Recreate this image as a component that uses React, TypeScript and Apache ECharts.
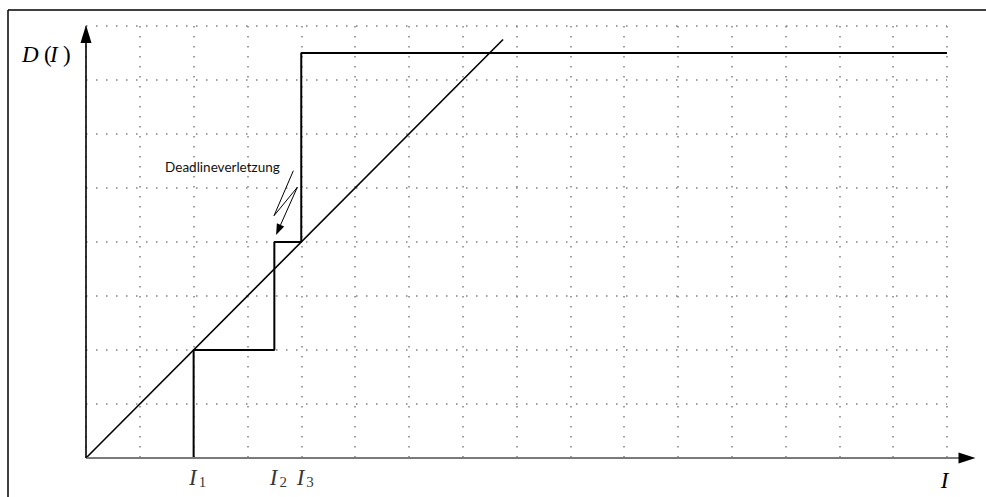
import React, { useEffect, useRef } from "react";
import * as echarts from "echarts";

// ---- data ----
const X_MAX = 16;
const Y_MAX = 8;
const AXIS_X_TIP = 16.53; // x-axis arrow tip (data units)
const stepPoints: [number, number][] = [
  [2, 0],
  [2, 2],
  [3.5, 2],
  [3.5, 4],
  [4, 4],
  [4, 7.5],
  [16, 7.5],
];
const diagonalPoints: [number, number][] = [
  [0, 0],
  [7.75, 7.75],
];
const markerPositions = [2, 3.5, 4];
const markerSubscripts = ["1", "2", "3"];
const annotationText = "Deadlineverletzung";
const annotationAnchor: [number, number] = [1.47, 5.39];
const lightningPoints: [number, number][] = [
  [3.853, 5.32],
  [3.494, 4.487],
  [3.927, 5.013],
  [3.532, 4.13],
];
const yAxisTitle = ["D", "(", "I", ")"];
const xAxisTitle = "I";

const SERIF = "'Liberation Serif', 'DejaVu Serif', serif";

export default function App() {
  const ref = useRef<HTMLDivElement>(null);
  useEffect(() => {
    const chart = echarts.init(ref.current!, null, { renderer: "svg" });
    const splitLine = {
      show: true,
      lineStyle: { color: "#808080", width: 1.5, type: [1.5, 8.5] as any },
    };
    chart.setOption({
      animation: false,
      grid: { left: 86, top: 26, width: 861, height: 432, containLabel: false },
      xAxis: {
        type: "value",
        min: 0,
        max: X_MAX,
        interval: 1,
        axisLine: { show: false },
        axisTick: { show: false },
        axisLabel: { show: false },
        splitLine,
      },
      yAxis: {
        type: "value",
        min: 0,
        max: Y_MAX,
        interval: 1,
        axisLine: { show: false },
        axisTick: { show: false },
        axisLabel: { show: false },
        splitLine,
      },
      series: [
        {
          type: "line",
          data: diagonalPoints,
          showSymbol: false,
          symbol: "none",
          lineStyle: { color: "#000", width: 1.6 },
          z: 3,
        },
        {
          type: "line",
          data: stepPoints,
          showSymbol: false,
          symbol: "none",
          lineStyle: { color: "#000", width: 2 },
          z: 4,
        },
        {
          type: "scatter",
          symbolSize: 0,
          data: markerPositions.map((v, i) => ({ value: [v, 0], sub: markerSubscripts[i] })),
          label: {
            show: true,
            position: "bottom",
            distance: 7,
            offset: [4, 0],
            formatter: (p: any) => `{i|I}{g|}{s|${p.data.sub}}`,
            rich: {
              i: { fontFamily: SERIF, fontStyle: "italic", fontSize: 23, lineHeight: 24, color: "#000" },
              g: { width: 2, lineHeight: 24 },
              s: { fontFamily: SERIF, fontSize: 15, lineHeight: 9, verticalAlign: "bottom", color: "#000" },
            },
          },
          z: 5,
        },
      ],
    });

    const px = (p: [number, number]) => chart.convertToPixel({ gridIndex: 0 }, p) as number[];
    const o = px([0, 0]);
    const xt = px([AXIS_X_TIP, 0]);
    const yt = px([0, Y_MAX]);

    // lightning arrow
    const lp = lightningPoints.map((p) => px(p));
    const tip = lp[lp.length - 1];
    const prev = lp[lp.length - 2];
    const dx = tip[0] - prev[0];
    const dy = tip[1] - prev[1];
    const len = Math.hypot(dx, dy);
    const ux = dx / len;
    const uy = dy / len;
    const aL = 11;
    const aW = 4;
    const base = [tip[0] - ux * aL, tip[1] - uy * aL];
    const polyPts = lp.slice(0, -1).concat([base]);
    const anc = px(annotationAnchor);

    const elements: any[] = [
      // frame
      { type: "line", shape: { x1: 8, y1: 10, x2: 986, y2: 10 }, style: { stroke: "#000", lineWidth: 1.5 }, z: 10 },
      { type: "line", shape: { x1: 8, y1: 10, x2: 8, y2: 497 }, style: { stroke: "#000", lineWidth: 1.5 }, z: 10 },
      // x axis
      { type: "line", shape: { x1: o[0], y1: o[1], x2: xt[0] - 12, y2: o[1] }, style: { stroke: "#7a7a7a", lineWidth: 2 }, z: 10 },
      {
        type: "polygon",
        shape: { points: [[xt[0], o[1]], [xt[0] - 17, o[1] - 5.5], [xt[0] - 17, o[1] + 5.5]] },
        style: { fill: "#000" },
        z: 11,
      },
      // y axis
      { type: "line", shape: { x1: o[0], y1: o[1], x2: o[0], y2: yt[1] + 12 }, style: { stroke: "#000", lineWidth: 1.6 }, z: 10 },
      {
        type: "polygon",
        shape: { points: [[o[0], yt[1] - 1], [o[0] - 5.5, yt[1] + 17], [o[0] + 5.5, yt[1] + 17]] },
        style: { fill: "#000" },
        z: 11,
      },
      // lightning
      { type: "polyline", shape: { points: polyPts }, style: { stroke: "#000", lineWidth: 1, fill: null }, z: 11 },
      {
        type: "polygon",
        shape: {
          points: [
            tip,
            [base[0] - uy * aW, base[1] + ux * aW],
            [base[0] + uy * aW, base[1] - ux * aW],
          ],
        },
        style: { fill: "#000" },
        z: 11,
      },
      {
        type: "text",
        x: anc[0],
        y: anc[1],
        style: {
          text: annotationText,
          font: "13.5px Lato, 'Noto Sans', sans-serif",
          fill: "#111",
          align: "left",
          verticalAlign: "middle",
          textAlign: "left",
          textVerticalAlign: "middle",
        },
        z: 12,
      },
      // x axis title
      {
        type: "text",
        x: xt[0] - 31,
        y: o[1] + 22,
        style: {
          text: xAxisTitle,
          font: `italic 23px ${SERIF}`,
          fill: "#000",
          align: "center",
          verticalAlign: "middle",
          textAlign: "center",
          textVerticalAlign: "middle",
        },
        z: 12,
      },
    ];
    // y axis title D(I)
    const titleX = [22, 44, 50, 63];
    yAxisTitle.forEach((t, i) => {
      const italic = t === "D" || t === "I";
      elements.push({
        type: "text",
        x: titleX[i],
        y: yt[1] + 28,
        style: {
          text: t,
          font: `${italic ? "italic " : ""}23px ${SERIF}`,
          fill: "#000",
          align: "left",
          verticalAlign: "middle",
          textAlign: "left",
          textVerticalAlign: "middle",
        },
        z: 12,
      });
    });
    chart.setOption({ graphic: { elements } });
    return () => chart.dispose();
  }, []);
  return (
    <div
      ref={ref}
      style={{ position: "fixed", left: 0, top: 0, width: 986, height: 497, background: "#fff" }}
    />
  );
}
